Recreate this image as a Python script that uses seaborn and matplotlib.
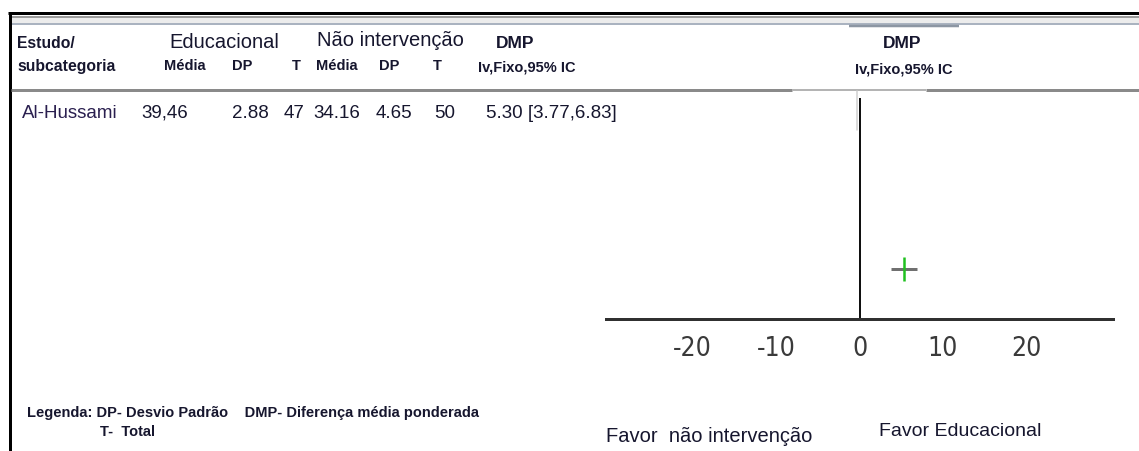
import numpy as np
import matplotlib
matplotlib.use('Agg')
import matplotlib.pyplot as plt
import matplotlib.font_manager as fm
import seaborn as sns

# study data
studyNames = ['Al-Hussami']
eduMean = [39.46]
eduSd = [2.88]
eduTotal = [47]
ctlMean = [34.16]
ctlSd = [4.65]
ctlTotal = [50]
meanDiff = [5.30]
ciLow = [3.77]
ciHigh = [6.83]

xTicks = [-20, -10, 0, 10, 20]
xLimits = (-30.35, 30.35)

W, H = 1139, 451
textColor = '#16162e'

sns.set_style('white')
plt.rcParams['font.family'] = ['Liberation Sans', 'DejaVu Sans']
plt.rcParams['axes.unicode_minus'] = False

# look for a narrow face for the tall, squeezed tick digits
fontList = fm.fontManager.ttflist
fontNames = {f.name for f in fontList}
if 'Liberation Sans Narrow' in fontNames:
    tickFont = {'family': 'Liberation Sans Narrow', 'size': 21}
elif any(f.name == 'DejaVu Sans' and f.stretch in ('condensed', 'semi-condensed') for f in fontList):
    tickFont = {'family': 'DejaVu Sans', 'stretch': 'condensed', 'size': 19}
else:
    tickFont = {'family': 'Liberation Sans', 'size': 16}

fig = plt.figure(figsize=(W / 100, H / 100), dpi=100)

# background axes in pixel coordinates for the table text and frame lines
bg = fig.add_axes([0, 0, 1, 1], zorder=0)
bg.set_xlim(0, W)
bg.set_ylim(H, 0)
bg.axis('off')

px = 0.72  # points per pixel

# frame lines
bg.plot([8, W], [13, 13], color='black', lw=3 * px, solid_capstyle='butt')
bg.plot([10, W], [16.5, 16.5], color='#9a9a9a', lw=2 * px, solid_capstyle='butt')
bg.fill_between([10, W], 18, 23, color='#ececec', lw=0)
bg.plot([10, W], [24, 24], color='#aab3c0', lw=2 * px, solid_capstyle='butt')
bg.plot([849, 959], [25.5, 25.5], color='#8c96a3', lw=2.5 * px, solid_capstyle='butt')
bg.plot([9.5, 9.5], [12, H], color='black', lw=3 * px, solid_capstyle='butt')
bg.plot([11, 792], [89.5, 89.5], color='#8a8a8a', lw=3 * px, solid_capstyle='butt')
bg.plot([792, 926], [90, 90], color='#b4b4b4', lw=2 * px, solid_capstyle='butt')
bg.plot([926, W], [89.5, 89.5], color='#8a8a8a', lw=3 * px, solid_capstyle='butt')
bg.plot([857, 857], [91, 130], color='#d0d0d0', lw=1.5 * px)

# header
bg.text(17, 44, 'Estudo/', fontsize=11.3, fontweight='bold', color=textColor, va='center', ha='left')
bg.text(17, 66, 'subcategoria', fontsize=11.3, fontweight='bold', color=textColor, va='center', ha='left')
bg.text(224, 43, 'Educacional', fontsize=14.5, color=textColor, va='center', ha='center')
bg.text(390, 41, 'Não intervenção', fontsize=14.5, color=textColor, va='center', ha='center')
bg.text(515, 43, 'DMP', fontsize=12.5, fontweight='bold', color=textColor, va='center', ha='center')
subHeads = [('Média', 185), ('DP', 242), ('T', 296), ('Média', 337), ('DP', 389), ('T', 437)]
for label, xPos in subHeads:
    bg.text(xPos, 66, label, fontsize=10.5, fontweight='bold', color=textColor, va='center', ha='center')
bg.text(478, 67, 'Iv,Fixo,95% IC', fontsize=10.5, fontweight='bold', color=textColor, va='center', ha='left')
bg.text(902, 44, 'DMP', fontsize=12.5, fontweight='bold', color=textColor, va='center', ha='center')
bg.text(904, 69, 'Iv,Fixo,95% IC', fontsize=10.5, fontweight='bold', color=textColor, va='center', ha='center')

# study rows
for i, name in enumerate(studyNames):
    rowY = 113 + i * 24
    bg.text(22, rowY, name, fontsize=13.5, color='#2a1f4f', va='center', ha='left')
    cells = [
        (f'{eduMean[i]:.2f}'.replace('.', ','), 165),
        (f'{eduSd[i]:.2f}', 250),
        (f'{eduTotal[i]}', 294),
        (f'{ctlMean[i]:.2f}', 337),
        (f'{ctlSd[i]:.2f}', 394),
        (f'{ctlTotal[i]}', 445),
    ]
    for txt, xPos in cells:
        bg.text(xPos, rowY, txt, fontsize=13.5, color=textColor, va='center', ha='center')
    bg.text(486, rowY, f'{meanDiff[i]:.2f} [{ciLow[i]:.2f},{ciHigh[i]:.2f}]',
            fontsize=13.5, color=textColor, va='center', ha='left')

# legend and direction labels
bg.text(27, 413, 'Legenda: DP- Desvio Padrão    DMP- Diferença média ponderada',
        fontsize=10.5, fontweight='bold', color=textColor, va='center', ha='left')
bg.text(100, 432, 'T-  Total', fontsize=10.5, fontweight='bold', color=textColor, va='center', ha='left')
bg.text(606, 437, 'Favor  não intervenção', fontsize=14.5, color=textColor, va='center', ha='left')
bg.text(879, 432, 'Favor Educacional', fontsize=14, color=textColor, va='center', ha='left')

# forest plot axes
ax = fig.add_axes([606 / W, 1 - 319 / H, 507 / W, 221 / H], zorder=1)
ax.patch.set_alpha(0)
ypos = np.arange(len(studyNames))
ax.hlines(ypos, ciLow, ciHigh, color='#707070', lw=3 * px, zorder=2)
sns.scatterplot(x=meanDiff, y=ypos, marker='|', s=300, color='#1fc01f',
                linewidth=1.8, ax=ax, zorder=3, legend=False)
ax.axvline(0, color='#111111', lw=2 * px, zorder=1)

ax.set_xlim(*xLimits)
ax.set_ylim(-0.226, 0.774)
ax.set_xticks(xTicks)
ax.set_yticks([])
for side in ['top', 'right', 'left']:
    ax.spines[side].set_visible(False)
ax.spines['bottom'].set_color('#303030')
ax.spines['bottom'].set_linewidth(3 * px)
ax.tick_params(axis='x', direction='inout', length=20, width=1, color='#808080', pad=2)
ax.set_xticklabels([str(t) for t in xTicks], fontdict=tickFont, color='#3a3a3a')
ax.set_xlabel('')
ax.set_ylabel('')

fig.savefig('out.png', dpi=100)
